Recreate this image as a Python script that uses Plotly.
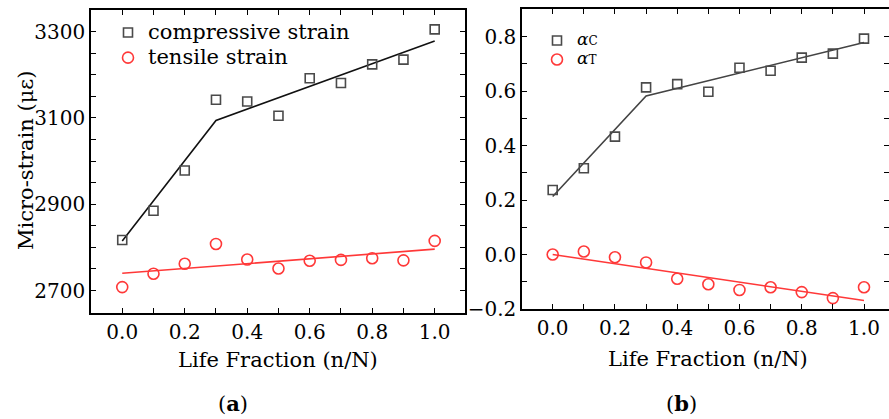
import plotly.graph_objects as go

W, H = 889, 419

# ---------------- data ----------------
life_fraction = [0.0, 0.1, 0.2, 0.3, 0.4, 0.5, 0.6, 0.7, 0.8, 0.9, 1.0]

compressive_strain = [2817, 2885, 2978, 3142, 3138, 3105, 3192, 3181, 3224, 3235, 3305]
tensile_strain = [2708, 2739, 2762, 2808, 2772, 2751, 2769, 2771, 2775, 2770, 2815]

compressive_fit_x = [0.0, 0.3, 1.0]
compressive_fit_y = [2815, 3094, 3278]
tensile_fit_x = [0.0, 1.0]
tensile_fit_y = [2740, 2796]

alpha_c = [0.237, 0.317, 0.433, 0.614, 0.626, 0.598, 0.686, 0.675, 0.723, 0.738, 0.793]
alpha_t = [0.0, 0.011, -0.010, -0.029, -0.089, -0.109, -0.130, -0.120, -0.138, -0.160, -0.120]

alpha_c_fit_x = [0.0, 0.3, 1.0]
alpha_c_fit_y = [0.213, 0.582, 0.779]
alpha_t_fit_x = [0.0, 1.0]
alpha_t_fit_y = [0.0, -0.169]

x_tick_vals = [0.0, 0.1, 0.2, 0.3, 0.4, 0.5, 0.6, 0.7, 0.8, 0.9, 1.0]
x_tick_text = ["0.0", "", "0.2", "", "0.4", "", "0.6", "", "0.8", "", "1.0"]
left_y_tick_vals = [2700, 2750, 2800, 2850, 2900, 2950, 3000, 3050, 3100, 3150, 3200, 3250, 3300]
left_y_tick_text = ["2700", "", "", "", "2900", "", "", "", "3100", "", "", "", "3300"]
right_y_tick_vals = [-0.2, -0.1, 0.0, 0.1, 0.2, 0.3, 0.4, 0.5, 0.6, 0.7, 0.8]
right_y_tick_text = ["\u22120.2", "", "0.0", "", "0.2", "", "0.4", "", "0.6", "", "0.8"]

# ---------------- style ----------------
FONT = "DejaVu Serif"
GRAY = "#4a4a4a"
RED = "#ff3838"


def px_x(p):
    return p / W


def px_y(p):
    return (H - p) / H


fig = go.Figure()

# left panel
fig.add_trace(go.Scatter(x=compressive_fit_x, y=compressive_fit_y, mode="lines",
                         line=dict(color="#111111", width=1.6), showlegend=False,
                         xaxis="x", yaxis="y"))
fig.add_trace(go.Scatter(x=tensile_fit_x, y=tensile_fit_y, mode="lines",
                         line=dict(color=RED, width=1.6), showlegend=False,
                         xaxis="x", yaxis="y"))
fig.add_trace(go.Scatter(x=life_fraction, y=compressive_strain, mode="markers",
                         name="<span style='font-size:21px'>compressive strain</span>",
                         marker=dict(symbol="square-open", size=9, color=GRAY,
                                     line=dict(width=1.6, color=GRAY)),
                         xaxis="x", yaxis="y", legend="legend"))
fig.add_trace(go.Scatter(x=life_fraction, y=tensile_strain, mode="markers",
                         name="<span style='font-size:21px'>tensile strain</span>",
                         marker=dict(symbol="circle-open", size=11, color=RED,
                                     line=dict(width=1.6, color=RED)),
                         xaxis="x", yaxis="y", legend="legend"))

# right panel
fig.add_trace(go.Scatter(x=alpha_c_fit_x, y=alpha_c_fit_y, mode="lines",
                         line=dict(color="#444444", width=1.6), showlegend=False,
                         xaxis="x2", yaxis="y2"))
fig.add_trace(go.Scatter(x=alpha_t_fit_x, y=alpha_t_fit_y, mode="lines",
                         line=dict(color=RED, width=1.6), showlegend=False,
                         xaxis="x2", yaxis="y2"))
fig.add_trace(go.Scatter(x=life_fraction, y=alpha_c, mode="markers",
                         name="<span style='font-size:17px'><i>\u03b1</i></span>C",
                         marker=dict(symbol="square-open", size=9, color=GRAY,
                                     line=dict(width=1.6, color=GRAY)),
                         xaxis="x2", yaxis="y2", legend="legend2"))
fig.add_trace(go.Scatter(x=life_fraction, y=alpha_t, mode="markers",
                         name="<span style='font-size:17px'><i>\u03b1</i></span>T",
                         marker=dict(symbol="circle-open", size=11, color=RED,
                                     line=dict(width=1.6, color=RED)),
                         xaxis="x2", yaxis="y2", legend="legend2"))

axis_common = dict(showgrid=False, zeroline=False, ticks="inside", ticklen=5,
                   tickwidth=1.2, tickcolor="black", linecolor="black",
                   linewidth=1.5, mirror="ticks", showline=True, automargin=False,
                   tickfont=dict(family=FONT, size=20, color="black"))

fig.update_layout(
    width=W, height=H,
    margin=dict(l=0, r=0, t=0, b=0, autoexpand=False),
    paper_bgcolor="white", plot_bgcolor="white",
    font=dict(family=FONT, size=20, color="black"),
    xaxis=dict(domain=[px_x(91), px_x(465)], range=[-0.1, 1.097], anchor="y",
               tickvals=x_tick_vals, ticktext=x_tick_text, **axis_common),
    yaxis=dict(domain=[px_y(313), px_y(10)], range=[2648, 3350], anchor="x",
               tickvals=left_y_tick_vals, ticktext=left_y_tick_text, **axis_common),
    xaxis2=dict(domain=[px_x(522), 1.0], range=[-0.0986, 1.0803], anchor="y2",
                tickvals=x_tick_vals, ticktext=x_tick_text, **axis_common),
    yaxis2=dict(domain=[px_y(309), px_y(9.3)], range=[-0.2, 0.9006], anchor="x2",
                tickvals=right_y_tick_vals, ticktext=right_y_tick_text, **axis_common),
    legend=dict(x=px_x(108), y=px_y(15), xanchor="left", yanchor="top",
                bgcolor="rgba(0,0,0,0)", borderwidth=0, tracegroupgap=0,
                font=dict(family=FONT, size=17, color="black")),
    legend2=dict(x=px_x(537), y=px_y(26), xanchor="left", yanchor="top",
                 bgcolor="rgba(0,0,0,0)", borderwidth=0, tracegroupgap=0,
                 font=dict(family=FONT, size=12, color="black")),
    showlegend=True,
)

annotations = [
    dict(text="Life Fraction (n/N)", x=px_x(278), y=px_y(360)),
    dict(text="Life Fraction (n/N)", x=px_x(708), y=px_y(359)),
    dict(text="Micro-strain (\u03bc\u03b5)", x=px_x(26), y=px_y(161), textangle=-90),
    dict(text="(<b>a</b>)", x=px_x(233), y=px_y(403)),
    dict(text="(<b>b</b>)", x=px_x(681), y=px_y(403)),
]
for a in annotations:
    fig.add_annotation(xref="paper", yref="paper", xanchor="center", yanchor="middle",
                       showarrow=False, font=dict(family=FONT, size=21, color="black"), **a)

fig.write_html("out.html", config={"displayModeBar": False},
               post_script="document.body.style.margin='0px';document.body.style.padding='0px';")
